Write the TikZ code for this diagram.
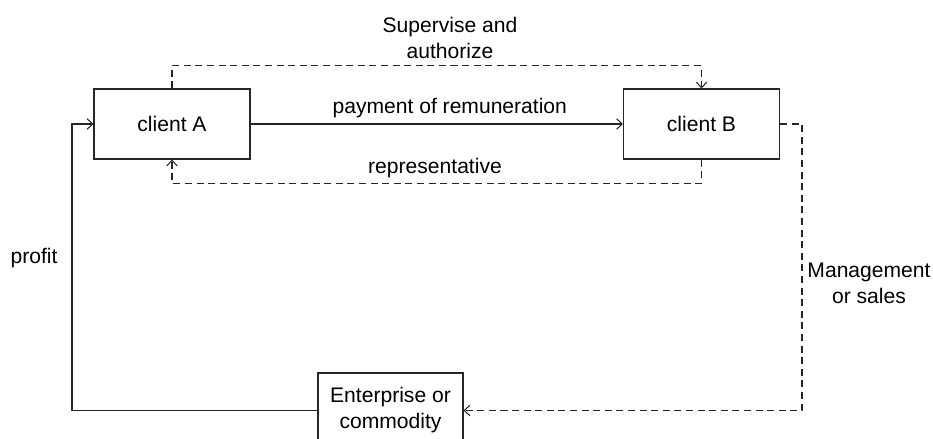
\documentclass[tikz,border=0pt]{standalone}
\usepackage{fontspec}
\setmainfont{Liberation Sans}
\usetikzlibrary{arrows.meta}
\begin{document}
\begin{tikzpicture}[x=0.02cm, y=-0.02cm,
    font=\fontsize{12}{14.8}\selectfont,
    line width=0.6pt, draw=black!85,
    >={Straight Barb[length=3.2pt,width=6pt]},
    box/.style={draw, minimum width=3.12cm, minimum height=1.4cm, align=center},
    dashline/.style={dash pattern=on 4pt off 2.6pt}]
    \useasboundingbox (0,0) rectangle (933,439);

    % boxes
    \node[box] (clientA) at (172,124) {client A};
    \node[box] (clientB) at (701.5,124) {client B};
    \node[box, minimum width=2.9cm, minimum height=1.5cm] (enterprise) at (390.5,410.5) {Enterprise or\\commodity};

    % corners
    \coordinate (rightcorner) at (802,124);
    \coordinate (leftcorner) at (72,124);

    % payment
    \draw[->] (clientA) -- (clientB) node[pos=0.535, above] {payment of remuneration};

    % supervise
    \draw[dashline, ->] (clientA.north) -- ++(0,-23) -| (clientB.north);
    \node[align=center] (supervise) at (450,38) {Supervise and\\authorize};

    % representative
    \draw[dashline, ->] (clientB.south) -- ++(0,24) -| (clientA.south);
    \node (representative) at (435,168) {representative};

    % management
    \draw[dashline, ->] (clientB.east) -- (rightcorner) |- (enterprise.east);
    \node[align=center] (management) at (869,283) {Management\\or sales};

    % profit
    \draw[->] (enterprise.west) -| (leftcorner) -- (clientA.west);
    \node (profit) at (34,258) {profit};
\end{tikzpicture}
\end{document}
